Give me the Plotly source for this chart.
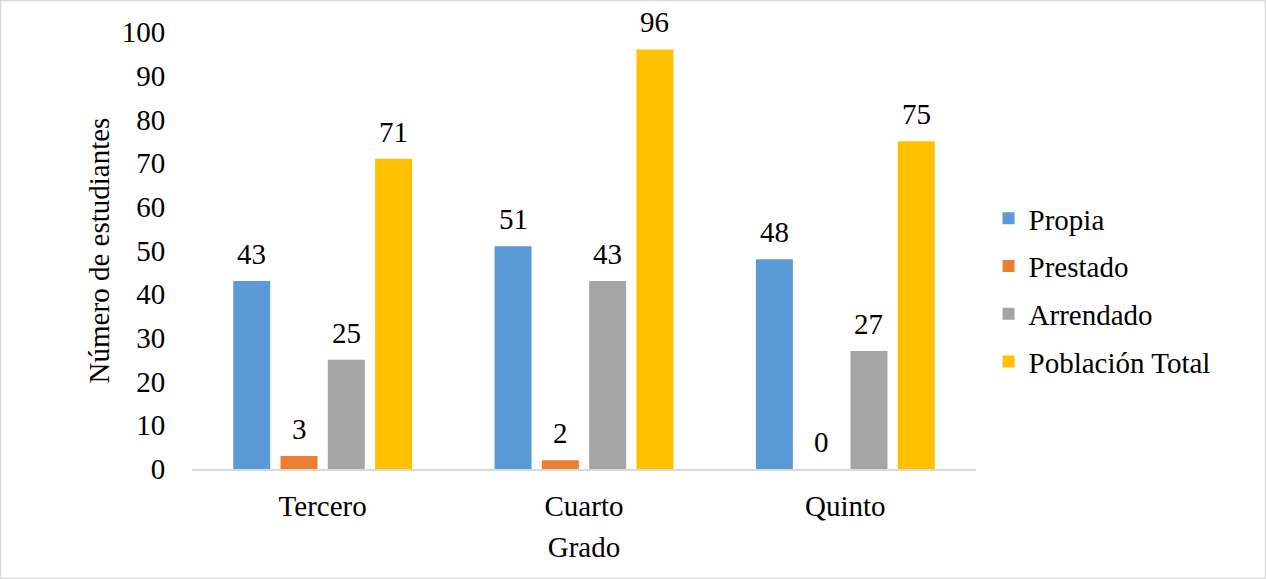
import plotly.graph_objects as go

# Data
grados = ['Tercero', 'Cuarto', 'Quinto']
propia = [43, 51, 48]
prestado = [3, 2, 0]
arrendado = [25, 43, 27]
poblacion_total = [71, 96, 75]

series = [
    ('Propia', propia, '#5B9BD5'),
    ('Prestado', prestado, '#ED7D31'),
    ('Arrendado', arrendado, '#A5A5A5'),
    ('Población Total', poblacion_total, '#FFC000'),
]

font_family = 'Liberation Serif, Times New Roman, serif'
fs = 29

L, R, T, B = 192, 290, 32, 110
W, H = 1266, 579
pw, ph = W - L - R, H - T - B

bargap = 0.276
cat_w = pw / len(grados)
slot = cat_w * (1 - bargap) / len(series)

fig = go.Figure()
annotations = []
for i, (name, vals, color) in enumerate(series):
    fig.add_trace(go.Bar(
        x=grados, y=vals, name=name,
        marker=dict(color=color, line=dict(width=0)),
        legendgroup=str(i),
    ))
    # value labels above each bar
    for g, v in zip(grados, vals):
        annotations.append(dict(
            x=g, y=v, xref='x', yref='y', text=str(v), showarrow=False,
            xshift=(i - 1.5) * slot, yshift=9, yanchor='bottom',
            font=dict(family=font_family, size=fs, color='black'),
        ))

fig.update_layout(
    width=W, height=H,
    paper_bgcolor='white', plot_bgcolor='white',
    margin=dict(l=L, r=R, t=T, b=B),
    barmode='group', bargap=bargap, bargroupgap=0.218,
    font=dict(family=font_family, size=fs, color='black'),
    xaxis=dict(
        title=dict(text='Grado', font=dict(size=fs), standoff=16),
        showline=True, linecolor='#D9D9D9', linewidth=2,
        ticks='outside', ticklen=10, tickcolor='rgba(0,0,0,0)', showgrid=False,
    ),
    yaxis=dict(
        title=dict(text='Número de estudiantes', font=dict(size=fs), standoff=3),
        range=[0, 100], dtick=10, showgrid=False, zeroline=False,
        ticks='outside', ticklen=20, tickcolor='rgba(0,0,0,0)', showline=False,
    ),
    legend=dict(
        x=1.016, y=(H - B - 290) / ph, xanchor='left', yanchor='middle',
        font=dict(size=fs), traceorder='grouped', tracegroupgap=7,
        itemwidth=30,
    ),
    annotations=annotations,
    shapes=[dict(
        type='rect', xref='paper', yref='paper',
        x0=(0.5 - L) / pw, x1=(W - 0.5 - L) / pw,
        y0=-(B - 0.5) / ph, y1=1 + (T - 0.5) / ph,
        line=dict(color='#D9D9D9', width=1.5),
    )],
)

fig.write_html('out.html', config={'displayModeBar': False},
               post_script="document.body.style.margin='0';")
